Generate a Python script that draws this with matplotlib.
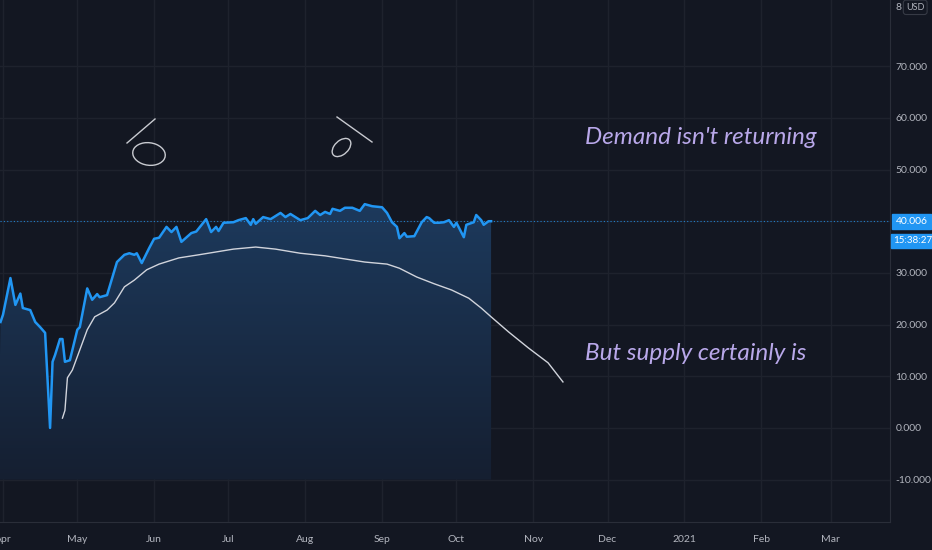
import numpy as np
import pandas as pd
import matplotlib
matplotlib.use("Agg")
import matplotlib.pyplot as plt
import matplotlib.dates as mdates
from matplotlib.patches import Ellipse, Polygon

# price (blue line)
price_dates = ["2020-03-31", "2020-04-01", "2020-04-04", "2020-04-06", "2020-04-08",
               "2020-04-09", "2020-04-12", "2020-04-14", "2020-04-16", "2020-04-18",
               "2020-04-20", "2020-04-21", "2020-04-22", "2020-04-24", "2020-04-25",
               "2020-04-26", "2020-04-28", "2020-05-01", "2020-05-02", "2020-05-05",
               "2020-05-07", "2020-05-09", "2020-05-10", "2020-05-13", "2020-05-17",
               "2020-05-20", "2020-05-22", "2020-05-24", "2020-05-25", "2020-05-27",
               "2020-05-30", "2020-06-01", "2020-06-03", "2020-06-06", "2020-06-08",
               "2020-06-10", "2020-06-12", "2020-06-16", "2020-06-18", "2020-06-22",
               "2020-06-24", "2020-06-26", "2020-06-27", "2020-06-29", "2020-07-03",
               "2020-07-05", "2020-07-08", "2020-07-10", "2020-07-11", "2020-07-12",
               "2020-07-15", "2020-07-18", "2020-07-22", "2020-07-24", "2020-07-26",
               "2020-07-28", "2020-07-30", "2020-08-02", "2020-08-05", "2020-08-07",
               "2020-08-09", "2020-08-11", "2020-08-12", "2020-08-15", "2020-08-17",
               "2020-08-20", "2020-08-23", "2020-08-25", "2020-08-28", "2020-09-01",
               "2020-09-03", "2020-09-05", "2020-09-07", "2020-09-08", "2020-09-10",
               "2020-09-11", "2020-09-14", "2020-09-17", "2020-09-19", "2020-09-20",
               "2020-09-22", "2020-09-24", "2020-09-26", "2020-09-28", "2020-09-30",
               "2020-10-01", "2020-10-04", "2020-10-05", "2020-10-08", "2020-10-09",
               "2020-10-11", "2020-10-12", "2020-10-14", "2020-10-15"]
price_vals = [20.5, 21.9, 29.0, 23.8, 26.0,
              23.2, 22.8, 20.5, 19.5, 18.4,
              0.0, 12.8, 14.1, 17.2, 17.2,
              12.8, 13.1, 19.0, 19.5, 27.0,
              24.8, 25.9, 25.3, 25.7, 32.1,
              33.5, 33.8, 33.5, 33.8, 31.9,
              34.8, 36.6, 36.8, 38.9, 37.9,
              38.9, 36.0, 37.7, 38.0, 40.4,
              37.9, 38.9, 38.1, 39.7, 39.8,
              40.2, 40.6, 39.3, 40.4, 39.5,
              40.8, 40.4, 41.6, 40.8, 41.4,
              40.8, 40.2, 40.6, 42.0, 41.2,
              41.8, 41.4, 42.4, 42.0, 42.6,
              42.6, 42.0, 43.3, 42.9, 42.7,
              41.6, 39.8, 38.9, 36.7, 37.7,
              37.0, 37.1, 39.8, 40.8, 40.6,
              39.7, 39.7, 39.8, 40.2, 38.9,
              39.7, 36.9, 39.3, 39.8, 41.2,
              40.2, 39.3, 40.0, 40.0]

# supply curve (white line)
supply_dates = ["2020-04-25", "2020-04-26", "2020-04-27", "2020-04-29", "2020-05-02",
                "2020-05-05", "2020-05-08", "2020-05-13", "2020-05-16", "2020-05-20",
                "2020-05-24", "2020-05-29", "2020-06-03", "2020-06-11", "2020-06-19",
                "2020-07-03", "2020-07-12", "2020-07-20", "2020-07-30", "2020-08-09",
                "2020-08-25", "2020-09-03", "2020-09-08", "2020-09-15", "2020-09-22",
                "2020-09-29", "2020-10-06", "2020-10-11", "2020-10-15", "2020-10-22",
                "2020-10-30", "2020-11-07", "2020-11-13"]
supply_vals = [1.9, 3.4, 9.7, 11.2, 15.1,
               19.0, 21.5, 22.8, 24.2, 27.3,
               28.6, 30.6, 31.7, 32.9, 33.5,
               34.6, 35.0, 34.6, 33.8, 33.3,
               32.1, 31.7, 30.9, 29.2, 27.9,
               26.7, 25.1, 23.2, 21.5, 18.6,
               15.5, 12.6, 8.9]

last_price = 40.006
y_ticks = [-10, 0, 10, 20, 30, 40, 50, 60, 70]
month_ticks = ["2020-04-01", "2020-05-01", "2020-06-01", "2020-07-01", "2020-08-01",
               "2020-09-01", "2020-10-01", "2020-11-01", "2020-12-01", "2021-01-01",
               "2021-02-01", "2021-03-01"]
month_labels = ["Apr", "May", "Jun", "Jul", "Aug", "Sep", "Oct", "Nov", "Dec",
                "2021", "Feb", "Mar"]

BG = "#131722"
GRID = "#1e222d"
TXT = "#b2b5be"
BLUE = "#2196f3"
NOTE = "#b9a8ea"
FONT = "Lato"

px = mdates.date2num(pd.to_datetime(price_dates))
sx = mdates.date2num(pd.to_datetime(supply_dates))
mx = mdates.date2num(pd.to_datetime(month_ticks))

fig = plt.figure(figsize=(9.32, 5.5), dpi=100, facecolor=BG)
ax = fig.add_axes([0, 28 / 550, 890 / 932, 522 / 550])
ax.set_facecolor(BG)
x0 = mdates.date2num(pd.Timestamp("2020-03-30 19:00"))
x1 = mdates.date2num(pd.Timestamp("2021-03-25"))

for y in y_ticks:
    ax.axhline(y, color=GRID, lw=1, zorder=0)
for m in mx:
    ax.axvline(m, color=GRID, lw=1, zorder=0)

# gradient fill under the price
grad = np.linspace(0, 1, 256).reshape(-1, 1)
cmap = matplotlib.colors.LinearSegmentedColormap.from_list("g", ["#151f31", "#1d3a5d"])
img = ax.imshow(grad, extent=[px[0] - 1, px[-1], -10, 44], origin="lower",
                aspect="auto", cmap=cmap, zorder=1, interpolation="bilinear")
poly = Polygon(np.column_stack([np.r_[px[0] - 1, px, px[-1]],
                                np.r_[-10, price_vals, -10]]),
               closed=True, transform=ax.transData, facecolor="none", edgecolor="none")
ax.add_patch(poly)
img.set_clip_path(poly)
ax.set_xlim(x0, x1)
ax.set_ylim(-18.2, 82.8)

ax.axhline(last_price, color=BLUE, lw=0.8, ls=(0, (1, 2)), alpha=0.8, zorder=5)
ax.plot(px, price_vals, color=BLUE, lw=1.8, zorder=4, solid_joinstyle="round")
ax.plot(sx, supply_vals, color="#d1d4dc", lw=1.0, zorder=3)

# text notes
ax.text(0.657, 0.736, "Demand isn't returning", transform=ax.transAxes, color=NOTE,
        fontsize=17.5, style="italic", family=FONT, va="center", ha="left")
ax.text(0.657, 0.322, "But supply certainly is", transform=ax.transAxes, color=NOTE,
        fontsize=17.5, style="italic", family=FONT, va="center", ha="left")

# hand drawn doodles
ax.plot([127 / 890, 155 / 890], [1 - 143 / 522, 1 - 119 / 522], transform=ax.transAxes,
        color="#c8cad0", lw=1)
ax.plot([337 / 890, 372 / 890], [1 - 117 / 522, 1 - 142 / 522], transform=ax.transAxes,
        color="#c8cad0", lw=1)
ax.add_patch(Ellipse((149 / 890, 1 - 154 / 522), 32 / 890, 23 / 522, angle=15,
                     transform=ax.transAxes, fill=False, ec="#c8cad0", lw=1))
ax.add_patch(Ellipse((341.5 / 890, 1 - 147.5 / 522), 16 / 890, 19 / 522, angle=-20,
                     transform=ax.transAxes, fill=False, ec="#c8cad0", lw=1))

# axes styling
for s in ["top", "left"]:
    ax.spines[s].set_visible(False)
ax.spines["right"].set_color("#2a2e39")
ax.spines["bottom"].set_color("#2a2e39")
ax.yaxis.tick_right()
ax.set_yticks(y_ticks)
ax.set_yticklabels([f"{v:.3f}" for v in y_ticks], family=FONT)
ax.set_xticks(mx)
ax.set_xticklabels(month_labels, family=FONT)
ax.tick_params(axis="both", colors=TXT, labelsize=7.5, length=0)
ax.tick_params(axis="y", pad=4)
ax.tick_params(axis="x", pad=9)

# right side labels
ax.text(1.006, 0.986, "8", transform=ax.transAxes, color=TXT, fontsize=7.5,
        family=FONT, va="center", ha="left")
ax.text(1.018, 0.986, "USD", transform=ax.transAxes, color=TXT, fontsize=6.5,
        family=FONT, va="center", ha="left",
        bbox=dict(boxstyle="round,pad=0.3", fc=BG, ec="#363a45", lw=0.8))
ax.annotate(f"{last_price:.3f}", xy=(1.0, last_price), xycoords=("axes fraction", "data"),
            xytext=(4, 0), textcoords="offset points", color="white", fontsize=7.5,
            family=FONT, va="center", ha="left",
            bbox=dict(boxstyle="square,pad=0.3", fc=BLUE, ec=BLUE))
ax.annotate("15:38:27", xy=(1.0, last_price), xycoords=("axes fraction", "data"),
            xytext=(2.5, -14), textcoords="offset points", color="white", fontsize=7,
            family=FONT, va="center", ha="left",
            bbox=dict(boxstyle="square,pad=0.25", fc=BLUE, ec=BLUE))

fig.savefig("out.png", dpi=100, facecolor=BG)
